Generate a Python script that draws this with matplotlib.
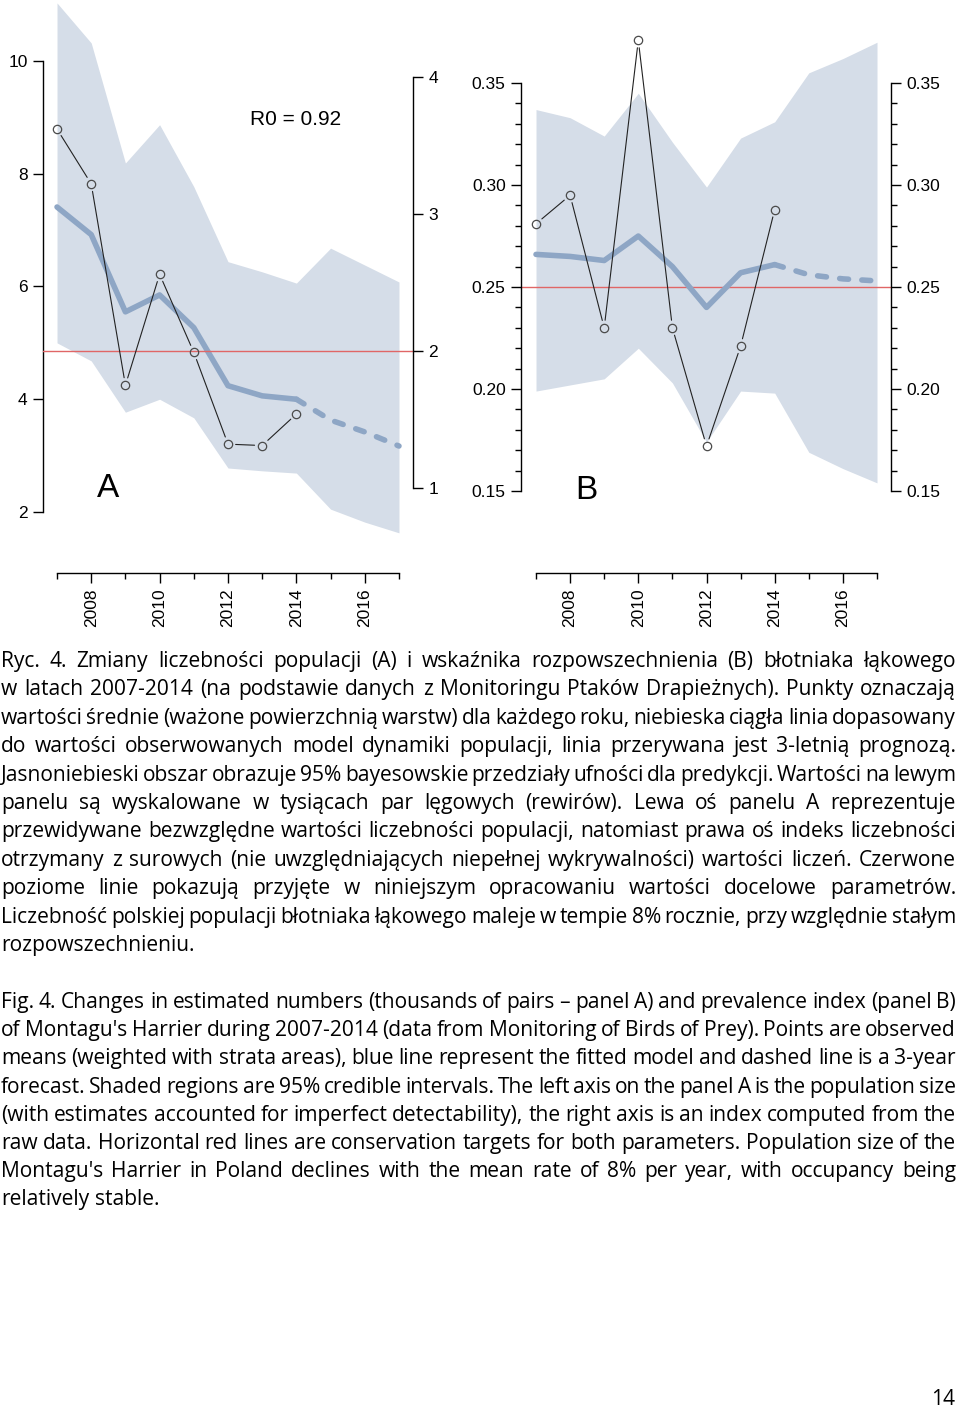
import matplotlib
matplotlib.use('Agg')
import matplotlib.pyplot as plt
from matplotlib.font_manager import FontProperties
from matplotlib.ticker import FixedLocator, FormatStrFormatter

plt.rcParams['font.family'] = ['Liberation Sans', 'DejaVu Sans']

# ---- data ----
years_obs = [2007, 2008, 2009, 2010, 2011, 2012, 2013, 2014]
years_fc = [2014, 2015, 2016, 2017]
years_band = [2007, 2008, 2009, 2010, 2011, 2012, 2013, 2014, 2015, 2016, 2017]

# panel A: raw index (right axis), fitted numbers in thousands of pairs (left axis)
a_points = [3.62, 3.22, 1.75, 2.56, 1.99, 1.32, 1.31, 1.54]
a_fit = [7.41, 6.92, 5.55, 5.85, 5.27, 4.24, 4.06, 4.00]
a_forecast = [4.00, 3.63, 3.42, 3.17]
a_upper = [11.03, 10.32, 8.19, 8.87, 7.77, 6.44, 6.26, 6.06, 6.68, 6.38, 6.08]
a_lower = [5.00, 4.68, 3.77, 4.00, 3.67, 2.78, 2.73, 2.69, 2.05, 1.82, 1.63]
a_target = 2.0

# panel B: prevalence index
b_points = [0.281, 0.295, 0.230, 0.371, 0.230, 0.172, 0.221, 0.288]
b_fit = [0.266, 0.265, 0.263, 0.275, 0.260, 0.240, 0.257, 0.261]
b_forecast = [0.261, 0.256, 0.254, 0.253]
b_upper = [0.337, 0.333, 0.324, 0.345, 0.321, 0.299, 0.323, 0.331, 0.355, 0.362, 0.370]
b_lower = [0.199, 0.202, 0.205, 0.220, 0.203, 0.174, 0.199, 0.198, 0.169, 0.161, 0.154]
b_target = 0.25

a_left_ticks = [2, 4, 6, 8, 10]
a_right_ticks = [1, 2, 3, 4]
b_ticks = [0.15, 0.20, 0.25, 0.30, 0.35]
b_minor = [0.16, 0.17, 0.18, 0.19, 0.21, 0.22, 0.23, 0.24, 0.26, 0.27, 0.28, 0.29,
           0.31, 0.32, 0.33, 0.34]
x_major = [2008, 2010, 2012, 2014, 2016]
x_minor = [2007, 2009, 2011, 2013, 2015, 2017]

caption_pl = [
    "Ryc. 4. Zmiany liczebności populacji (A) i wskaźnika rozpowszechnienia (B) błotniaka łąkowego",
    "w latach 2007-2014 (na podstawie danych z Monitoringu Ptaków Drapieżnych). Punkty oznaczają",
    "wartości średnie (ważone powierzchnią warstw) dla każdego roku, niebieska ciągła linia dopasowany",
    "do wartości obserwowanych model dynamiki populacji, linia przerywana jest 3-letnią prognozą.",
    "Jasnoniebieski obszar obrazuje 95% bayesowskie przedziały ufności dla predykcji. Wartości na lewym",
    "panelu są wyskalowane w tysiącach par lęgowych (rewirów). Lewa oś panelu A reprezentuje",
    "przewidywane bezwzględne wartości liczebności populacji, natomiast prawa oś indeks liczebności",
    "otrzymany z surowych (nie uwzględniających niepełnej wykrywalności) wartości liczeń. Czerwone",
    "poziome linie pokazują przyjęte w niniejszym opracowaniu wartości docelowe parametrów.",
    "Liczebność polskiej populacji błotniaka łąkowego maleje w tempie 8% rocznie, przy względnie stałym",
    "rozpowszechnieniu.",
]
caption_en = [
    "Fig. 4. Changes in estimated numbers (thousands of pairs \u2013 panel A) and prevalence index (panel B)",
    "of Montagu's Harrier during 2007-2014 (data from Monitoring of Birds of Prey). Points are observed",
    "means (weighted with strata areas), blue line represent the fitted model and dashed line is a 3-year",
    "forecast. Shaded regions are 95% credible intervals. The left axis on the panel A is the population size",
    "(with estimates accounted for imperfect detectability), the right axis is an index computed from the",
    "raw data. Horizontal red lines are conservation targets for both parameters. Population size of the",
    "Montagu's Harrier in Poland declines with the mean rate of 8% per year, with occupancy being",
    "relatively stable.",
]

band_col = '#d5dde8'
fit_col = '#8ea6c5'
red_col = '#e06666'
W, H = 960, 1410
tick_fs = 12.5

fig = plt.figure(figsize=(9.6, 14.1), dpi=100)


def style_axis(ax):
    for s in ['top', 'bottom', 'left', 'right']:
        ax.spines[s].set_visible(False)
    ax.patch.set_alpha(0)


def draw_points(ax, xs, ys):
    for i in range(len(xs) - 1):
        ax.annotate('', xy=(xs[i + 1], ys[i + 1]), xytext=(xs[i], ys[i]),
                    arrowprops=dict(arrowstyle='-', shrinkA=5.5, shrinkB=5.5,
                                    lw=0.8, color='#222222'))
    ax.plot(xs, ys, 'o', mfc='none', mec='#4a4a4a', ms=6, mew=0.9, zorder=5)


def xaxis(ax):
    ax.spines['bottom'].set_visible(True)
    ax.spines['bottom'].set_position(('outward', 23.8))
    ax.spines['bottom'].set_bounds(2007, 2017)
    ax.spines['bottom'].set_linewidth(1.0)
    ax.xaxis.set_major_locator(FixedLocator(x_major))
    ax.xaxis.set_minor_locator(FixedLocator(x_minor))
    ax.tick_params(axis='x', which='major', length=7, width=1, labelsize=tick_fs,
                   labelrotation=90, pad=4)
    ax.tick_params(axis='x', which='minor', length=4, width=1)


# ---------- panel A ----------
axA = fig.add_axes([43 / W, 1 - 540 / H, 370 / W, 540 / H])
style_axis(axA)
axA.set_xlim(2006.59, 2017.41)
axA.set_ylim(1.503, 11.082)
axA.fill_between(years_band, a_lower, a_upper, color=band_col, lw=0, zorder=1)
axA.plot(years_obs, a_fit, color=fit_col, lw=4, solid_capstyle='round',
         solid_joinstyle='round', zorder=3)
axA.plot(years_fc, a_forecast, color=fit_col, lw=4, linestyle=(0, (1.6, 2.4)),
         dash_capstyle='round', zorder=3)
axA.spines['left'].set_visible(True)
axA.spines['left'].set_bounds(2, 10)
axA.spines['left'].set_linewidth(1.0)
axA.yaxis.set_major_locator(FixedLocator(a_left_ticks))
axA.tick_params(axis='y', length=7, width=1, labelsize=tick_fs, pad=4)
xaxis(axA)
axA.text(0.559, 0.769, 'R0 = 0.92', transform=axA.transAxes, fontsize=15,
         ha='left', va='baseline')
axA.text(0.176, 0.080, 'A', transform=axA.transAxes, fontsize=24,
         ha='center', va='baseline')

axA2 = axA.twinx()
style_axis(axA2)
axA2.set_ylim(0.6204, 4.562)
axA2.spines['right'].set_visible(True)
axA2.spines['right'].set_bounds(1, 4)
axA2.spines['right'].set_linewidth(1.0)
axA2.yaxis.set_major_locator(FixedLocator(a_right_ticks))
axA2.tick_params(axis='y', length=7, width=1, labelsize=tick_fs, pad=4)
axA2.axhline(a_target, color=red_col, lw=1.0, zorder=2)
draw_points(axA2, years_obs, a_points)

# ---------- panel B ----------
axB = fig.add_axes([521 / W, 1 - 540 / H, 370 / W, 540 / H])
style_axis(axB)
axB.set_xlim(2006.56, 2017.41)
axB.set_ylim(0.126, 0.3907)
axB.fill_between(years_band, b_lower, b_upper, color=band_col, lw=0, zorder=1)
axB.axhline(b_target, color=red_col, lw=1.0, zorder=2)
axB.plot(years_obs, b_fit, color=fit_col, lw=4, solid_capstyle='round',
         solid_joinstyle='round', zorder=3)
axB.plot(years_fc, b_forecast, color=fit_col, lw=4, linestyle=(0, (1.6, 2.4)),
         dash_capstyle='round', zorder=3)
draw_points(axB, years_obs, b_points)
for s in ['left', 'right']:
    axB.spines[s].set_visible(True)
    axB.spines[s].set_bounds(0.15, 0.35)
    axB.spines[s].set_linewidth(1.0)
axB.yaxis.set_major_locator(FixedLocator(b_ticks))
axB.yaxis.set_minor_locator(FixedLocator(b_minor))
axB.yaxis.set_major_formatter(FormatStrFormatter('%.2f'))
axB.tick_params(axis='y', which='both', left=True, right=True,
                labelleft=True, labelright=True)
axB.tick_params(axis='y', which='major', length=7, width=1, labelsize=tick_fs, pad=4)
axB.tick_params(axis='y', which='minor', length=4, width=1)
xaxis(axB)
axB.text(0.178, 0.076, 'B', transform=axB.transAxes, fontsize=24,
         ha='center', va='baseline')

# ---------- justified captions ----------
renderer = fig.canvas.get_renderer()
cap_family = 'Open Sans'


def measure(word, size):
    fp = FontProperties(family=cap_family, size=size)
    return renderer.get_text_width_height_descent(word, fp, ismath=False)[0]


X0, TW = 1, 955
space10 = measure('a a', 10) - measure('aa', 10)
need = 0
for block in (caption_pl, caption_en):
    for line in block[:-1]:
        words = line.split(' ')
        tot = sum(measure(w, 10) for w in words) + (len(words) - 1) * space10 * 0.55
        need = max(need, tot)
size = round(10 * TW / need, 1)


def justify(block, y0, step):
    for i, line in enumerate(block):
        y = y0 + i * step
        words = line.split(' ')
        widths = [measure(w, size) for w in words]
        if i == len(block) - 1:
            gap = space10 * size / 10
        else:
            gap = (TW - sum(widths)) / (len(words) - 1)
        x = X0
        for w, wd in zip(words, widths):
            fig.text(x / W, 1 - y / H, w, family=cap_family, fontsize=size,
                     ha='left', va='baseline')
            x += wd + gap


justify(caption_pl, 667, 28.4)
justify(caption_en, 1008, 28.2)
fig.text(955 / W, 1 - 1405 / H, '14', family=cap_family, fontsize=size,
         ha='right', va='baseline')

fig.savefig('out.png', dpi=100)
